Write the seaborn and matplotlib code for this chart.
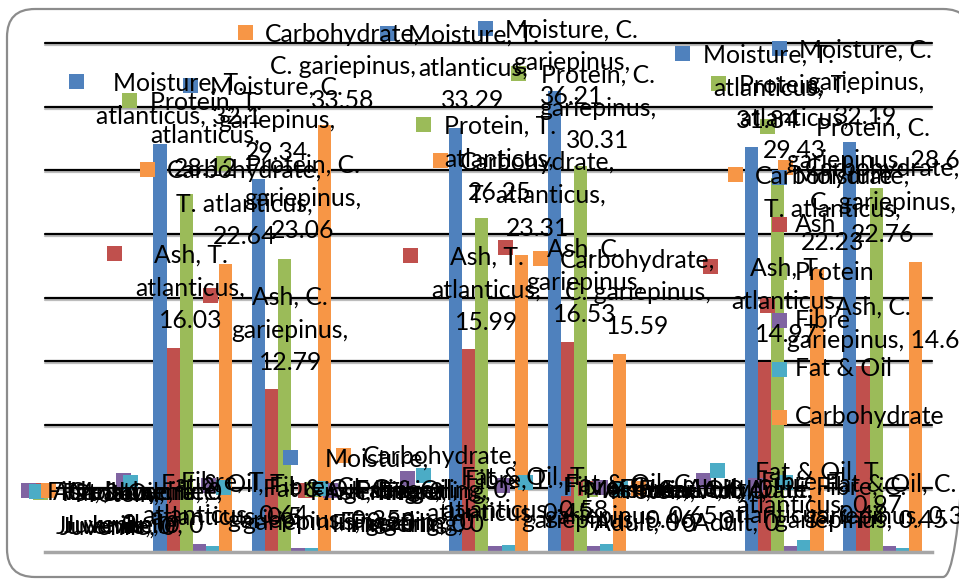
import pandas as pd
import seaborn as sns
import matplotlib.pyplot as plt
from matplotlib.patches import Rectangle, FancyBboxPatch
from matplotlib.transforms import ScaledTranslation

W, H = 959, 579

components = ["Moisture", "Ash", "Protein", "Fibre", "Fat & Oil", "Carbohydrate"]
colors = ["#4F81BD", "#C0504D", "#9BBB59", "#8064A2", "#4BACC6", "#F79646"]
stages = ["Juvenile", "Fingerling", "Adult"]
species = ["T. atlanticus", "C. gariepinus"]

# one value per stage/species row: T1, C1, T2, C2, T3, C3
moisture = [32.1, 29.34, 33.29, 36.21, 31.84, 32.19]
ash = [16.03, 12.79, 15.99, 16.53, 14.97, 14.6]
protein = [28.12, 23.06, 26.25, 30.31, 29.43, 28.6]
fibre = [0.64, 0.35, 0.45, 0.46, 0.48, 0.45]
fat_oil = [0.5, 0.28, 0.58, 0.65, 0.97, 0.35]
carbohydrate = [22.64, 33.58, 23.31, 15.59, 22.23, 22.76]
series = dict(zip(components, [moisture, ash, protein, fibre, fat_oil, carbohydrate]))

# the stage rows are empty header rows in the sheet (value 0)
row_ids, row_names, records = [], [], []
for i, stage in enumerate(stages):
    row_ids.append(stage)
    row_names.append(stage)
    for j, sp in enumerate(species):
        row_ids.append(f"{stage}|{sp}")
        row_names.append(sp)
for comp in components:
    k = 0
    for rid in row_ids:
        if "|" in rid:
            val = series[comp][k]
            k += 1
        else:
            val = 0
        records.append({"row": rid, "component": comp, "value": val})
df = pd.DataFrame(records)

# where excel dropped the data label keys (pixel coords), per component, per row
key_spots = {
    "Moisture":     [(44, 490), (76, 81), (190, 85), (290, 457), (387, 33), (485, 28), (563, 488), (682, 53), (779, 48)],
    "Ash":          [(34, 490), (114, 253), (210, 295), (305, 490), (410, 255), (505, 247), (585, 488), (710, 266), (767, 305)],
    "Protein":      [(40, 492), (129, 100), (223, 163), (312, 489), (423, 124), (518, 73), (590, 489), (718, 83), (767, 126)],
    "Fibre":        [(28, 490), (123, 480), (208, 485), (330, 490), (407, 478), (502, 485), (600, 487), (703, 480), (755, 485)],
    "Fat & Oil":    [(36, 491), (130, 482), (223, 487), (320, 488), (423, 475), (525, 482), (620, 488), (717, 470), (785, 482)],
    "Carbohydrate": [(48, 490), (147, 169), (245, 32), (343, 455), (440, 160), (540, 258), (638, 488), (735, 174), (785, 167)],
}

# rough calibri advance widths (em) used for excel-like label wrapping
CAL = {" ": .226, "&": .682, ",": .25, ".": .252, "A": .579, "C": .533, "F": .459, "J": .319,
       "M": .855, "O": .662, "P": .517, "T": .487, "a": .479, "b": .525, "c": .423, "d": .525,
       "e": .498, "f": .305, "g": .471, "h": .525, "i": .229, "l": .229, "n": .525, "o": .527,
       "p": .525, "r": .349, "s": .391, "t": .335, "u": .525, "v": .452, "y": .453}
EM = 26
LINE = 33
FONT = ["Lato", "DejaVu Sans"]
FS = 17.8


def em_width(s):
    return sum(CAL.get(ch, .507) for ch in s)


def wrap(text, limit=6.6):
    words = text.split(" ")
    lines = [words[0]]
    for w in words[1:]:
        if em_width(lines[-1] + " " + w) <= limit:
            lines[-1] += " " + w
        else:
            lines.append(w)
    return lines


fig = plt.figure(figsize=(W / 100, H / 100), dpi=100)
sns.set_style("white")

ax = fig.add_axes([45 / W, 1 - 552 / H, 887 / W, 509 / H])
ax.set_zorder(1)
sns.barplot(data=df, x="row", y="value", hue="component", order=row_ids, hue_order=components,
            palette=colors, saturation=1, width=0.8, errorbar=None, legend=False, ax=ax)
for p in ax.patches:
    p.set_linewidth(0)
    p.set_zorder(2)

shadow = ax.get_yaxis_transform() + ScaledTranslation(0, -0.02, fig.dpi_scale_trans)
for v in range(5, 45, 5):
    ax.plot([0, 1], [v, v], transform=shadow, color="#bdbdbd", lw=1.6, zorder=0, clip_on=False)
    ax.axhline(v, color="black", lw=1.6, zorder=1, clip_on=False)

ax.set_ylim(0, 40)
ax.set_xlim(-0.5, len(row_ids) - 0.5)
ax.set_xticks([])
ax.set_yticks([])
ax.set_xlabel("")
ax.set_ylabel("")
for side in ["top", "left", "right"]:
    ax.spines[side].set_visible(False)
ax.spines["bottom"].set_color("#a6a6a6")
ax.spines["bottom"].set_linewidth(2.5)

# overlay in pixel coords for the frame, data labels and legend
ov = fig.add_axes([0, 0, 1, 1])
ov.set_zorder(3)
ov.patch.set_alpha(0)
ov.set_xlim(0, W)
ov.set_ylim(H, 0)
ov.axis("off")

ov.add_patch(FancyBboxPatch((7, 9), 964, 568, boxstyle="round,pad=0,rounding_size=28",
                            facecolor="none", edgecolor="#8c8c8c", lw=1.6))


def draw_label(text, color, kx, ky):
    lines = wrap(text)
    w = max(em_width(l) for l in lines) * EM
    cx = kx + 22 + w / 2
    ov.add_patch(Rectangle((kx - 7.5, ky - 7.5), 15, 15, color=color, lw=0))
    for i, line in enumerate(lines):
        ov.text(cx, ky + 2 + i * LINE, line, ha="center", va="center",
                fontsize=FS, family=FONT, color="black")


for comp, col in zip(components, colors):
    vals = df[df["component"] == comp]["value"].tolist()
    for idx, (name, val) in enumerate(zip(row_names, vals)):
        kx, ky = key_spots[comp][idx]
        draw_label(f"{comp}, {name}, {val:g}", col, kx, ky)

# the real legend, squeezed onto the plot on the right
legend_y = [177, 224, 272, 320, 369, 417]
for comp, col, ly in zip(components, colors, legend_y):
    ov.add_patch(Rectangle((772, ly - 7.5), 15, 15, color=col, lw=0))
    ov.text(795, ly, comp, ha="left", va="center", fontsize=FS, family=FONT, color="black")

fig.savefig("out.png", dpi=100)
